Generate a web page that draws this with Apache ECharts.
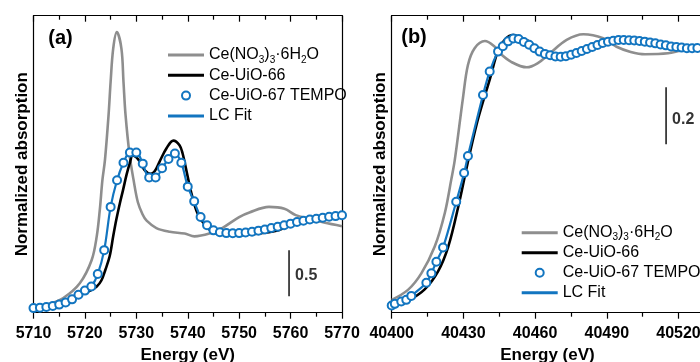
<!DOCTYPE html>
<html><head><meta charset="utf-8">
<script src="https://cdn.jsdelivr.net/npm/echarts@6/dist/echarts.min.js"></script>
<style>html,body{margin:0;padding:0;background:#fff}#c{width:700px;height:362px}</style>
</head><body><div id="c"></div>
<script>
// ---------- Panel (a): Ce L3-edge ----------
const aNitrateE = [5710, 5713, 5715.8, 5719, 5721.3, 5722.3, 5722.9, 5723.4, 5723.9, 5724.6, 5725.0, 5725.5, 5726.2, 5727.1, 5727.5, 5727.9, 5728.7, 5729.5, 5730.3, 5731.2, 5732, 5733.9, 5736.5, 5739.4, 5741.3, 5744.2, 5746.7, 5750, 5752, 5755.8, 5758.8, 5761, 5763.6, 5766.5, 5770];
const aNitrateV = [0.02, 0.045, 0.11, 0.27, 0.52, 0.78, 1.07, 1.39, 1.61, 2.10, 2.46, 2.82, 3.00, 2.82, 2.46, 2.10, 1.66, 1.38, 1.15, 1.02, 0.95, 0.87, 0.83, 0.81, 0.78, 0.81, 0.87, 0.99, 1.04, 1.10, 1.08, 1.01, 0.97, 0.93, 0.89];

const aUio66E = [5710, 5713, 5715.8, 5719, 5721, 5722.3, 5723.2, 5724, 5724.8, 5725.5, 5726.1, 5726.8, 5727.4, 5728.1, 5728.7, 5729.3, 5730, 5730.7, 5731.6, 5732.8, 5733.6, 5734.5, 5735.9, 5737.2, 5738.4, 5739, 5739.8, 5740.7, 5741.9, 5743.6, 5745.5, 5748, 5750, 5754.5, 5757.8, 5761, 5764, 5767.5, 5770];
const aUio66V = [0.0, 0.01, 0.05, 0.14, 0.19, 0.235, 0.30, 0.42, 0.56, 0.78, 0.96, 1.14, 1.28, 1.45, 1.57, 1.66, 1.64, 1.59, 1.50, 1.46, 1.49, 1.59, 1.74, 1.82, 1.77, 1.68, 1.48, 1.25, 1.03, 0.885, 0.813, 0.80, 0.795, 0.816, 0.85, 0.936, 0.97, 0.993, 1.01];

const aTempoE = [5710, 5711.25, 5712.5, 5713.75, 5715, 5716.25, 5717.5, 5718.75, 5720, 5721.25, 5722.5, 5723.75, 5725, 5726.25, 5727.5, 5728.75, 5730, 5731.25, 5732.5, 5733.75, 5735, 5736.25, 5737.5, 5738.75, 5740, 5741.25, 5742.5, 5743.75, 5745, 5746.25, 5747.5, 5748.75, 5750, 5751.25, 5752.5, 5753.75, 5755, 5756.25, 5757.5, 5758.75, 5760, 5761.25, 5762.5, 5763.75, 5765, 5766.25, 5767.5, 5768.75, 5770];
const aTempoV = [0.00, 0.005, 0.012, 0.022, 0.038, 0.062, 0.095, 0.145, 0.19, 0.235, 0.37, 0.63, 1.10, 1.39, 1.58, 1.69, 1.69, 1.57, 1.42, 1.42, 1.52, 1.62, 1.68, 1.58, 1.32, 1.16, 0.99, 0.90, 0.845, 0.825, 0.815, 0.813, 0.815, 0.822, 0.83, 0.842, 0.855, 0.87, 0.885, 0.90, 0.918, 0.935, 0.95, 0.962, 0.972, 0.982, 0.992, 1.00, 1.01];

const aFitE = aTempoE;
const aFitV = aTempoV;

// ---------- Panel (b): Ce K-edge ----------
const bNitrateE = [40400, 40406.8, 40412.4, 40418, 40422.2, 40424.9, 40426.4, 40429.8, 40431.9, 40434.7, 40439, 40443.1, 40445.3, 40450, 40456.5, 40461, 40466.2, 40473.2, 40480.2, 40488.5, 40494.1, 40500, 40506, 40515.6, 40521, 40527, 40535, 40550];
const bNitrateV = [0.025, 0.06, 0.118, 0.212, 0.329, 0.446, 0.516, 0.732, 0.849, 0.908, 0.933, 0.913, 0.89, 0.86, 0.841, 0.855, 0.89, 0.937, 0.957, 0.943, 0.913, 0.895, 0.887, 0.89, 0.90, 0.908, 0.93, 0.94];

const bUio66E = [40400, 40406.8, 40413.8, 40419.4, 40423.6, 40427.8, 40431.9, 40435.5, 40438.9, 40441.1, 40444.5, 40447.5, 40450.9, 40454, 40457.9, 40462, 40465.5, 40469, 40472.5, 40476, 40480, 40485.8, 40490, 40493.4, 40502, 40508, 40514, 40520, 40527, 40535, 40550];
const bUio66V = [0.001, 0.022, 0.062, 0.125, 0.21, 0.35, 0.51, 0.64, 0.74, 0.80, 0.90, 0.94, 0.954, 0.945, 0.93, 0.896, 0.878, 0.872, 0.878, 0.89, 0.902, 0.919, 0.928, 0.935, 0.937, 0.93, 0.918, 0.91, 0.908, 0.91, 0.92];

const bTempoE = [40400, 40401.3, 40404.0, 40406.1, 40408.2, 40414.5, 40416.6, 40418.7, 40421.5, 40427.0, 40430.3, 40431.9, 40438.2, 40441.0, 40444.5, 40446.5, 40448.7, 40450.9, 40453.1, 40455.3, 40457.5, 40459.7, 40461.9, 40464.1, 40466.3, 40468.5, 40470.7, 40472.9, 40475.1, 40477.3, 40479.5, 40481.7, 40483.9, 40486.1, 40488.3, 40490.5, 40492.7, 40494.9, 40497.1, 40499.3, 40501.5, 40503.7, 40505.9, 40508.1, 40510.3, 40512.5, 40514.7, 40516.9, 40519.1, 40521.3, 40523.5, 40525.7, 40527.9];
const bTempoV = [0.005, 0.011, 0.019, 0.025, 0.039, 0.085, 0.118, 0.159, 0.209, 0.369, 0.47, 0.53, 0.744, 0.826, 0.896, 0.915, 0.932, 0.942, 0.94, 0.93, 0.92, 0.908, 0.896, 0.888, 0.883, 0.879, 0.878, 0.880, 0.885, 0.891, 0.898, 0.905, 0.912, 0.919, 0.926, 0.931, 0.934, 0.937, 0.937, 0.936, 0.935, 0.933, 0.931, 0.928, 0.925, 0.921, 0.918, 0.914, 0.912, 0.910, 0.908, 0.908, 0.909];

const bFitE = bTempoE;
const bFitV = bTempoV;

// tick labels / axis ranges
const aXRange = [5710, 5770, 10];
const bXRange = [40400, 40550, 30];
const aYRange = [-0.05, 3.178];
const bYRange = [-0.02, 1.022];

// scale bars [x, yLow, yHigh, labelY, label]
const aScale = [5759.7, 0.13, 0.63, 0.357, '0.5'];
const bScale = [40514.8, 0.571, 0.771, 0.656, '0.2'];

const NAME_NITRATE = 'Ce(NO3)3·6H2O';
const NAME_66 = 'Ce-UiO-66';
const NAME_67 = 'Ce-UiO-67 TEMPO';
const NAME_FIT = 'LC Fit';

const pairs = (xs, ys) => xs.map((x, i) => [x, ys[i]]);

const FONT = '"Liberation Sans", Arial, sans-serif';
const GRAY = '#8e8e8e', BLUE = '#1275c0', BLACK = '#000000';
const AX = {color: '#000', width: 1.2};

function xAxes(gi, r, nameExtra) {
  return [{
    type: 'value', gridIndex: gi, position: 'bottom', min: r[0], max: r[1], interval: r[2],
    axisLine: {show: true, onZero: false, lineStyle: AX},
    axisTick: {show: true, inside: false, length: 6, lineStyle: AX},
    minorTick: {show: true, splitNumber: 2, length: 4, lineStyle: AX},
    axisLabel: {show: true, margin: 13, fontFamily: FONT, fontWeight: 'bold', fontSize: 16, color: '#000',
      formatter: v => String(v)},
    splitLine: {show: false}, minorSplitLine: {show: false},
    name: 'Energy (eV)', nameLocation: 'middle', nameGap: 34, nameMoveOverlap: false,
    nameTextStyle: Object.assign({fontFamily: FONT, fontWeight: 'bold', fontSize: 17, color: '#000'}, nameExtra || {})
  }, {
    type: 'value', gridIndex: gi, position: 'top', min: r[0], max: r[1], interval: r[2],
    axisLine: {show: true, onZero: false, lineStyle: AX},
    axisTick: {show: true, inside: true, length: 6, lineStyle: AX},
    minorTick: {show: true, splitNumber: 2, length: 4, lineStyle: AX},
    axisLabel: {show: false}, splitLine: {show: false}
  }];
}
function yAxes(gi, r) {
  return [{
    type: 'value', gridIndex: gi, position: 'left', min: r[0], max: r[1],
    axisLine: {show: true, onZero: false, lineStyle: AX}, axisTick: {show: false},
    axisLabel: {show: false}, splitLine: {show: false},
    name: 'Normalized absorption', nameLocation: 'middle', nameGap: 3, nameMoveOverlap: false,
    nameTextStyle: {fontFamily: FONT, fontWeight: 'bold', fontSize: 17, color: '#000'}
  }, {
    type: 'value', gridIndex: gi, position: 'right', min: r[0], max: r[1],
    axisLine: {show: true, onZero: false, lineStyle: AX}, axisTick: {show: false},
    axisLabel: {show: false}, splitLine: {show: false}
  }];
}

function panelSeries(xi, yi, nit, u66, tempo, fit, scale) {
  return [
    {name: NAME_NITRATE, type: 'line', xAxisIndex: xi, yAxisIndex: yi, data: nit, symbol: 'none', showSymbol: false,
     smooth: 0.35, lineStyle: {color: GRAY, width: 2.6}, itemStyle: {color: GRAY}, z: 2, silent: true},
    {name: NAME_66, type: 'line', xAxisIndex: xi, yAxisIndex: yi, data: u66, symbol: 'none', showSymbol: false,
     smooth: 0.35, lineStyle: {color: BLACK, width: 2.6}, itemStyle: {color: BLACK}, z: 3, silent: true},
    {name: NAME_FIT, type: 'line', xAxisIndex: xi, yAxisIndex: yi, data: fit, symbol: 'none', showSymbol: false,
     smooth: 0.35, lineStyle: {color: BLUE, width: 2.2}, itemStyle: {color: BLUE}, z: 4, silent: true},
    {name: NAME_67, type: 'scatter', xAxisIndex: xi, yAxisIndex: yi, data: tempo, symbol: 'emptyCircle', symbolSize: 8,
     itemStyle: {color: BLUE, borderColor: BLUE, borderWidth: 2, opacity: 1}, z: 5, silent: true},
    {type: 'line', xAxisIndex: xi, yAxisIndex: yi, data: [[scale[0], scale[1]], [scale[0], scale[2]]], symbol: 'none',
     lineStyle: {color: '#000', width: 1.4}, z: 6, silent: true},
    {type: 'scatter', xAxisIndex: xi, yAxisIndex: yi, data: [[scale[0], scale[3]]], symbolSize: 0, z: 6, silent: true,
     label: {show: true, position: 'right', distance: 6, formatter: scale[4], fontFamily: FONT, fontWeight: 'bold', fontSize: 16, color: '#000'}}
  ];
}

const lineIcon = 'path://M0,0H36V3H0Z';
const legendData = [
  {name: NAME_NITRATE, icon: lineIcon}, {name: NAME_66, icon: lineIcon},
  {name: NAME_67, icon: 'emptyCircle'},
  {name: NAME_FIT, icon: lineIcon}
];
function legendAt(left, top, gap) {
  return {
    orient: 'vertical', left: left, top: top, padding: 0, itemWidth: 36, itemHeight: 8, itemGap: gap,
    selectedMode: false, data: legendData, itemStyle: {opacity: 1},
    textStyle: {fontFamily: FONT, fontSize: 16, color: '#000', lineHeight: 20,
      rich: {s: {fontFamily: FONT, fontSize: 10, color: '#000', verticalAlign: 'bottom'}}},
    formatter: n => n === NAME_NITRATE ? 'Ce(NO{s|3}){s|3}·6H{s|2}O' : n
  };
}

const chart = echarts.init(document.getElementById('c'), null, {renderer: 'canvas'});
chart.setOption({
  animation: false,
  backgroundColor: '#fff',
  grid: [
    {left: 33.5, top: 15.7, width: 308.5, height: 297, containLabel: false, outerBoundsMode: 'none'},
    {left: 391.7, top: 15.7, width: 358.5, height: 297, containLabel: false, outerBoundsMode: 'none'}
  ],
  xAxis: [].concat(xAxes(0, aXRange), xAxes(1, bXRange, {padding: [0, 47, 0, 0]})),
  yAxis: [].concat(yAxes(0, aYRange), yAxes(1, bYRange)),
  legend: [legendAt(168, 45, 0.3), legendAt(521.7, 222.7, 0)],
  graphic: [
    {type: 'text', x: 60.5, y: 38.5, style: {text: '(a)', font: 'bold 20px "Liberation Sans", Arial', fill: '#000', align: 'center', verticalAlign: 'middle'}},
    {type: 'text', x: 414, y: 37.5, style: {text: '(b)', font: 'bold 20px "Liberation Sans", Arial', fill: '#000', align: 'center', verticalAlign: 'middle'}}
  ],
  series: [].concat(
    panelSeries(0, 0, pairs(aNitrateE, aNitrateV), pairs(aUio66E, aUio66V), pairs(aTempoE, aTempoV), pairs(aFitE, aFitV), aScale),
    panelSeries(2, 2, pairs(bNitrateE, bNitrateV), pairs(bUio66E, bUio66V), pairs(bTempoE, bTempoV), pairs(bFitE, bFitV), bScale)
  )
});
</script>
</body></html>
